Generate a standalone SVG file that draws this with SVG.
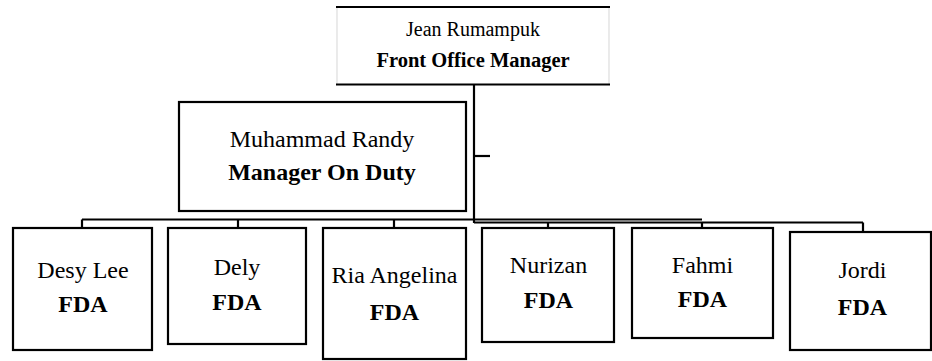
<svg xmlns="http://www.w3.org/2000/svg" width="932" height="361" viewBox="0 0 932 361">
<style>
.box{fill:#fff;stroke:#000;stroke-width:2.2}
.ln{stroke:#000;stroke-width:2.2;fill:none}
.nm{font-family:'Liberation Serif','DejaVu Serif',serif;text-anchor:middle;fill:#000}
.b{font-weight:bold}
</style>
<rect width="932" height="361" fill="#fff"/>
<g id="connectors">
<line class="ln" x1="474" y1="84" x2="474" y2="223"/>
<line class="ln" x1="474" y1="156" x2="490" y2="156"/>
<line class="ln" x1="82" y1="219.5" x2="702" y2="219.5"/>
<line class="ln" x1="474" y1="222.5" x2="863" y2="222.5"/>
<line class="ln" x1="82" y1="219.5" x2="82" y2="228"/>
<line class="ln" x1="238" y1="219.5" x2="238" y2="228"/>
<line class="ln" x1="394" y1="219.5" x2="394" y2="228"/>
<line class="ln" x1="548" y1="222.5" x2="548" y2="228"/>
<line class="ln" x1="702" y1="222.5" x2="702" y2="228"/>
<line class="ln" x1="863" y1="222.5" x2="863" y2="232"/>
</g>
<g id="node-fom">
<rect x="337" y="7" width="272" height="77" fill="#fff"/>
<line x1="337" y1="7" x2="337" y2="84" stroke="#ddd" stroke-width="1.2"/>
<line x1="609" y1="7" x2="609" y2="84" stroke="#ddd" stroke-width="1.2"/>
<line class="ln" x1="336" y1="7" x2="610" y2="7"/>
<line class="ln" x1="336" y1="84.5" x2="610" y2="84.5"/>
<text class="nm" x="473" y="36" font-size="20">Jean Rumampuk</text>
<text class="nm b" x="473" y="67" font-size="20.5">Front Office Manager</text>
</g>
<g id="node-mod">
<rect class="box" x="179" y="102" width="287" height="109" stroke-width="2.6"/>
<text class="nm" x="322" y="147" font-size="24">Muhammad Randy</text>
<text class="nm b" x="322" y="180" font-size="24">Manager On Duty</text>
</g>
<g id="node-desy">
<rect class="box" x="13" y="228" width="139" height="122"/>
<text class="nm" x="83" y="278" font-size="24">Desy Lee</text>
<text class="nm b" x="83" y="312" font-size="24">FDA</text>
</g>
<g id="node-dely">
<rect class="box" x="168" y="228" width="138" height="116"/>
<text class="nm" x="237" y="275" font-size="24">Dely</text>
<text class="nm b" x="237" y="310" font-size="24">FDA</text>
</g>
<g id="node-ria">
<rect class="box" x="323" y="228" width="143" height="131"/>
<text class="nm" x="394.5" y="283" font-size="24">Ria Angelina</text>
<text class="nm b" x="394.5" y="320" font-size="24">FDA</text>
</g>
<g id="node-nurizan">
<rect class="box" x="482" y="228" width="132" height="114"/>
<text class="nm" x="548.5" y="273" font-size="24">Nurizan</text>
<text class="nm b" x="548.5" y="308" font-size="24">FDA</text>
</g>
<g id="node-fahmi">
<rect class="box" x="632" y="228" width="141" height="110"/>
<text class="nm" x="702.5" y="273" font-size="24">Fahmi</text>
<text class="nm b" x="702.5" y="307" font-size="24">FDA</text>
</g>
<g id="node-jordi">
<rect class="box" x="790" y="232" width="141" height="118"/>
<text class="nm" x="862.5" y="278" font-size="24">Jordi</text>
<text class="nm b" x="862.5" y="315" font-size="24">FDA</text>
</g>
</svg>
